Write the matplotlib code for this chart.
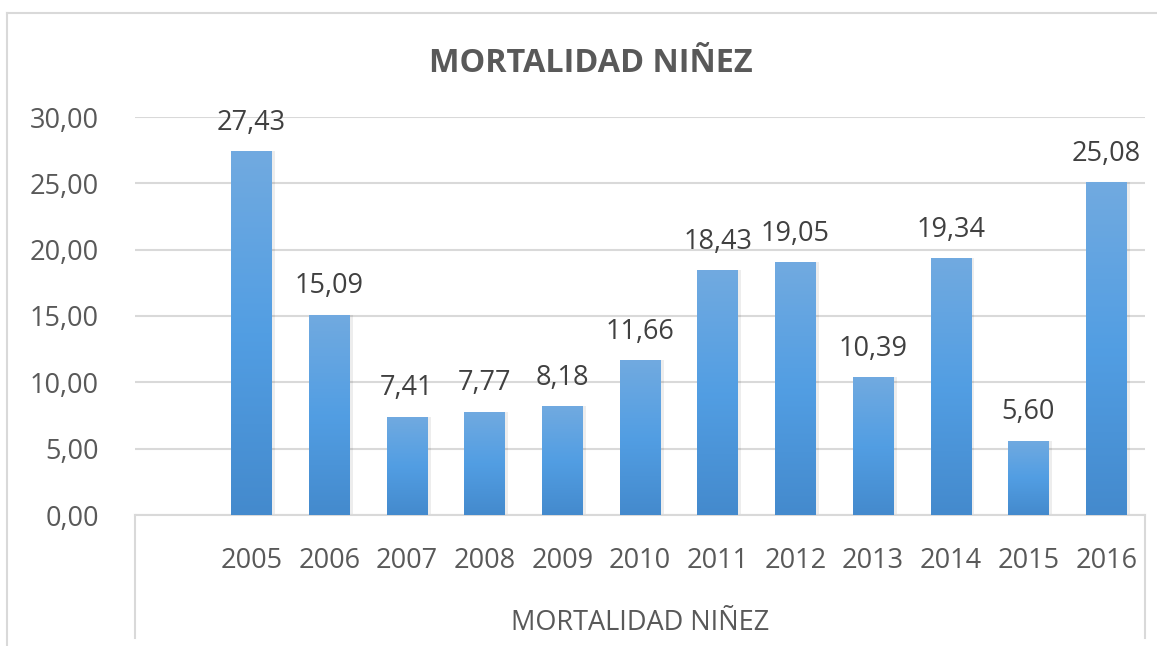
import numpy as np
import matplotlib
matplotlib.use("Agg")
from matplotlib import pyplot as plt
from matplotlib.colors import LinearSegmentedColormap
from matplotlib.lines import Line2D

years = ['2005', '2006', '2007', '2008', '2009', '2010',
         '2011', '2012', '2013', '2014', '2015', '2016']
values = [27.43, 15.09, 7.41, 7.77, 8.18, 11.66,
          18.43, 19.05, 10.39, 19.34, 5.60, 25.08]
yticks = [0, 5, 10, 15, 20, 25, 30]
title = 'MORTALIDAD NIÑEZ'
axis_title = 'MORTALIDAD NIÑEZ'

plt.rcParams['font.family'] = ['Open Sans', 'DejaVu Sans']

W, H = 1157, 646
fig = plt.figure(figsize=(W / 100, H / 100), dpi=100)
ax = fig.add_axes([135 / W, 1 - 515 / H, (1145 - 135) / W, (515 - 117) / H])

grid_col = '#d9d9d9'
text_col = '#595959'

x = np.arange(len(years))
bars = ax.bar(x, values, width=0.52, color='none', zorder=3)

# excel-like vertical gradient in each bar
cmap = LinearSegmentedColormap.from_list(
    'blue', ['#448acd', '#529ee3', '#71aae0'])
grad = np.linspace(0, 1, 256).reshape(-1, 1)
for b in bars:
    bx, by = b.get_x(), b.get_y()
    bw, bh = b.get_width(), b.get_height()
    # soft shadow
    ax.bar(bx + bw / 2 + 0.03, bh, width=bw + 0.03, bottom=by,
           color='#000000', alpha=0.07, zorder=2, linewidth=0)
    im = ax.imshow(grad, cmap=cmap, origin='lower', aspect='auto',
                   extent=[bx, bx + bw, by, by + bh], zorder=3)
    im.set_clip_path(b)

for xi, v in zip(x, values):
    ax.annotate(f'{v:.2f}'.replace('.', ','), (xi, v), xytext=(0, 20.5),
                textcoords='offset points', ha='center', va='center',
                fontsize=19.5, color='#404040')

ax.set_xlim(-1.5, 11.5)
ax.set_ylim(0, 30)
ax.set_yticks(yticks)
ax.set_yticklabels([f'{t:.2f}'.replace('.', ',') for t in yticks])
ax.set_xticks(x)
ax.set_xticklabels(years)
ax.tick_params(axis='y', length=0, pad=26, labelsize=19.5, labelcolor=text_col)
ax.tick_params(axis='x', length=0, pad=23, labelsize=19.5, labelcolor=text_col)
ax.yaxis.grid(True, color=grid_col, linewidth=1.5, zorder=0)
ax.set_axisbelow(True)
for s in ['top', 'right', 'left']:
    ax.spines[s].set_visible(False)
ax.spines['bottom'].set_color(grid_col)
ax.spines['bottom'].set_linewidth(1.5)

fig.text((135 + 1145) / 2 / W, 1 - 623 / H, axis_title,
         ha='center', va='center', fontsize=19.5, color=text_col)

fig.text(591 / W, 1 - 63 / H, title, ha='center', va='center',
         fontsize=23.3, fontweight='bold', color=text_col)

# category box lines and chart frame
def fline(x0, y0, x1, y1):
    fig.add_artist(Line2D([x0 / W, x1 / W], [1 - y0 / H, 1 - y1 / H],
                          color=grid_col, linewidth=1.5))

fline(135, 515, 135, 638)
fline(1145, 515, 1145, 638)
fline(7, 13, 7, 646)
fline(7, 13, 1157, 13)

fig.savefig('out.png', dpi=100)
